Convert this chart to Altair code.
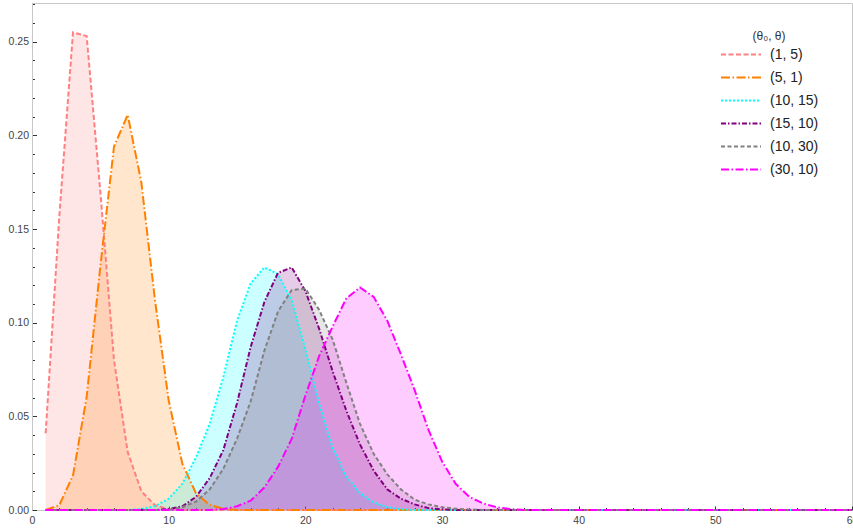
import altair as alt
import pandas as pd

N_POINTS = 60
x_values = list(range(1, N_POINTS + 1))

series_labels = ["(1, 5)", "(5, 1)", "(10, 15)", "(15, 10)", "(10, 30)", "(30, 10)"]
line_colors = ["#FF8080", "#FF8000", "#00FFFF", "#800080", "#808080", "#FF00FF"]
dash_patterns = [[5, 2.5], [9, 2.5, 1.5, 2.5], [2, 2], [5, 2, 1.5, 2], [4, 2.5], [8, 2.5, 1.5, 2.5]]

# values starting at x = 1 (remaining points up to x = 60 are zero)
p_1_5 = [0.041, 0.157, 0.255, 0.253, 0.170, 0.080, 0.031, 0.010, 0.0025, 0.0005]
p_5_1 = [0.0, 0.0026, 0.0185, 0.0603, 0.130, 0.194, 0.211, 0.175, 0.112, 0.0586,
         0.0247, 0.0089, 0.0027, 0.0007]
p_10_15 = [0, 0, 0, 0, 0, 0, 0, 0.0005, 0.002, 0.006,
           0.014, 0.028, 0.046, 0.071, 0.101, 0.121, 0.1295, 0.126, 0.112, 0.086,
           0.057, 0.033, 0.018, 0.009, 0.004, 0.0015, 0.0005]
p_15_10 = [0, 0, 0, 0, 0, 0, 0, 0, 0, 0.0005,
           0.002, 0.007, 0.017, 0.032, 0.057, 0.087, 0.111, 0.1266, 0.1295, 0.117,
           0.097, 0.074, 0.053, 0.035, 0.021, 0.011, 0.006, 0.003, 0.001, 0.0003]
p_10_30 = [0, 0, 0, 0, 0, 0, 0, 0, 0, 0,
           0.0015, 0.0045, 0.011, 0.022, 0.038, 0.058, 0.085, 0.106, 0.1174, 0.1183,
           0.107, 0.091, 0.068, 0.046, 0.030, 0.019, 0.011, 0.0055, 0.003, 0.0015,
           0.0007, 0.0003]
p_30_10 = [0, 0, 0, 0, 0, 0, 0, 0, 0, 0,
           0, 0, 0, 0.0005, 0.002, 0.005, 0.012, 0.023, 0.038, 0.061,
           0.082, 0.098, 0.113, 0.1188, 0.1138, 0.101, 0.083, 0.064, 0.043, 0.026,
           0.014, 0.007, 0.0035, 0.0015, 0.0005]

series_values = [p_1_5, p_5_1, p_10_15, p_15_10, p_10_30, p_30_10]

rows = []
for label, vals in zip(series_labels, series_values):
    full = list(vals) + [0.0] * (N_POINTS - len(vals))
    for xv, pv in zip(x_values, full):
        rows.append({"series": label, "fill_key": label, "x": xv, "p": pv})
df = pd.DataFrame(rows)

# fill scale uses the data-derived (alphabetically sorted) domain
color_of = dict(zip(series_labels, line_colors))
fill_range = [color_of[s] for s in sorted(series_labels)]

FONT = "Liberation Sans"
FRAME = "#c8c8c8"

x_axis = alt.Axis(
    values=list(range(0, 61, 2)),
    labelExpr="datum.value % 10 === 0 ? datum.label : ''",
    tickSize=alt.ExprRef(expr="datum.value % 10 === 0 ? -4 : -2.5"),
    labelPadding=9, labelFlush=False, labelOverlap=False,
    grid=False, title=None, domainColor=FRAME, tickColor="#333333",
    labelFont=FONT, labelFontSize=10.5, labelColor="#444444",
)
y_axis = alt.Axis(
    values=[round(i * 0.01, 2) for i in range(28)],
    labelExpr="round(datum.value * 100) % 5 === 0 ? format(datum.value, '.2f') : ''",
    tickSize=alt.ExprRef(expr="round(datum.value * 100) % 5 === 0 ? -4.5 : -2.5"),
    labelPadding=8, labelOverlap=False,
    grid=False, title=None, domainColor=FRAME, tickColor="#333333",
    labelFont=FONT, labelFontSize=10.5, labelColor="#444444",
)

x_enc = alt.X("x:Q", scale=alt.Scale(domain=[0, 60], nice=False, zero=False), axis=x_axis)
y_enc = alt.Y("p:Q", scale=alt.Scale(domain=[0, 0.2707], nice=False), axis=y_axis, stack=None)

legend = alt.Legend(
    title="(θ₀, θ)", orient="none", legendX=688, legendY=28, padding=0,
    titleFont=FONT, titleFontSize=12, titleFontWeight="normal", titleColor="#333333",
    titleAnchor="middle", titlePadding=4,
    labelFont=FONT, labelFontSize=14, labelColor="#222222", labelOffset=8,
    symbolType="stroke", symbolSize=1600, symbolStrokeWidth=2,
    clipHeight=15, rowPadding=8,
)

areas = alt.Chart(df).mark_area(fillOpacity=0.2, interpolate="linear").encode(
    x=x_enc, y=y_enc,
    fill=alt.Fill("fill_key:N", scale=alt.Scale(range=fill_range), legend=None),
    detail="series:N",
)

lines = alt.Chart(df).mark_line(strokeWidth=2, interpolate="linear").encode(
    x=x_enc, y=y_enc,
    color=alt.Color("series:N", scale=alt.Scale(domain=series_labels, range=line_colors),
                    legend=legend, sort=series_labels),
    strokeDash=alt.StrokeDash("series:N", scale=alt.Scale(domain=series_labels, range=dash_patterns),
                              legend=legend, sort=series_labels),
)

chart = alt.layer(areas, lines).properties(
    width=820, height=507,
    autosize=alt.AutoSizeParams(type="none"),
    padding={"left": 32, "top": 3, "right": 1, "bottom": 20},
    background="white",
).configure_view(stroke=FRAME, strokeWidth=1)

chart.save("out.html", embed_options={"renderer": "svg", "actions": False})
